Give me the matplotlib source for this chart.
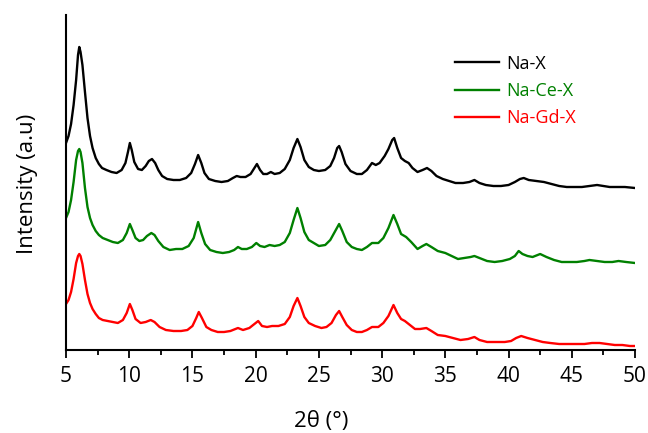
import matplotlib
matplotlib.use("Agg")
import matplotlib.pyplot as plt
from matplotlib.ticker import MultipleLocator

# ---- data (2theta in degrees, intensity in a.u.) ----
nax_2theta = [5.0, 5.2, 5.4, 5.6, 5.8, 5.95, 6.05, 6.15, 6.3, 6.5, 6.7, 6.9, 7.1, 7.35, 7.6, 7.85,
              8.2, 8.6, 9.0, 9.4, 9.7, 9.9, 10.05, 10.2, 10.4, 10.7, 11.0, 11.3, 11.55, 11.8, 12.05,
              12.3, 12.6, 13.0, 13.5, 14.0, 14.5, 14.9, 15.2, 15.45, 15.7, 15.95, 16.3, 16.8, 17.3,
              17.8, 18.2, 18.5, 18.8, 19.2, 19.6, 19.9, 20.1, 20.35, 20.6, 20.9, 21.2, 21.5, 21.9,
              22.3, 22.7, 23.0, 23.3, 23.55, 23.85, 24.2, 24.6, 25.0, 25.5, 25.9, 26.2, 26.45, 26.6,
              26.8, 27.1, 27.5, 28.0, 28.4, 28.8, 29.2, 29.5, 29.8, 30.2, 30.5, 30.8, 30.95, 31.2,
              31.5, 31.8, 32.1, 32.4, 32.8, 33.2, 33.55, 33.9, 34.3, 34.8, 35.3, 35.8, 36.4, 36.9,
              37.3, 37.7, 38.2, 38.8, 39.4, 40.0, 40.5, 40.9, 41.2, 41.6, 42.2, 42.8, 43.4, 44.0,
              44.6, 45.2, 45.8, 46.4, 47.0, 47.5, 48.0, 48.6, 49.2, 50.0]
nax_int = [207, 214, 226, 245, 270, 295, 303, 298, 285, 258, 232, 214, 202, 192, 186, 182,
           180, 178, 177, 180, 187, 198, 207, 200, 188, 181, 180, 184, 189, 191, 187,
           180, 174, 171, 170, 170, 172, 177, 186, 195, 187, 177, 171, 169, 168,
           169, 172, 174, 173, 173, 176, 182, 186, 180, 176, 176, 178, 176, 177,
           181, 190, 202, 211, 203, 190, 183, 180, 179, 180, 184, 192, 202, 204,
           198, 186, 179, 176, 176, 180, 187, 185, 187, 194, 201, 210, 212, 202,
           192, 189, 187, 182, 178, 180, 182, 179, 174, 171, 169, 167, 167, 168,
           170, 167, 165, 164, 164, 165, 168, 171, 172, 170, 169, 168, 166, 164,
           163, 163, 163, 164, 165, 164, 163, 163, 163, 162]

nacex_2theta = [5.0, 5.2, 5.4, 5.6, 5.8, 5.95, 6.05, 6.15, 6.3, 6.5, 6.7, 6.9, 7.1, 7.35, 7.6, 7.9,
                8.3, 8.7, 9.1, 9.5, 9.8, 10.05, 10.25, 10.5, 10.8, 11.1, 11.4, 11.75, 12.0, 12.3,
                12.7, 13.2, 13.7, 14.2, 14.7, 15.1, 15.45, 15.7, 16.0, 16.4, 16.9, 17.4, 17.9, 18.3,
                18.6, 18.9, 19.3, 19.7, 20.05, 20.35, 20.7, 21.1, 21.5, 21.9, 22.3, 22.7, 23.0, 23.3,
                23.55, 23.85, 24.2, 24.6, 25.0, 25.5, 25.9, 26.25, 26.6, 26.85, 27.2, 27.6, 28.0,
                28.4, 28.8, 29.2, 29.7, 30.1, 30.5, 30.9, 31.2, 31.5, 31.9, 32.3, 32.8, 33.2, 33.5,
                33.9, 34.4, 35.0, 35.5, 36.0, 36.5, 37.0, 37.3, 37.7, 38.3, 38.9, 39.5, 40.1, 40.5,
                40.8, 41.1, 41.5, 41.9, 42.5, 43.0, 43.6, 44.2, 44.8, 45.4, 46.0, 46.4, 47.0, 47.6,
                48.2, 48.7, 49.3, 50.0]
nacex_int = [132, 138, 150, 168, 190, 199, 201, 198, 187, 162, 143, 132, 125, 119, 115, 112,
             110, 108, 107, 110, 117, 126, 120, 112, 109, 110, 114, 117, 115, 109,
             103, 100, 101, 101, 104, 112, 128, 117, 106, 100, 98, 97, 98, 100,
             103, 101, 101, 103, 107, 104, 103, 105, 104, 105, 108, 117, 130, 142,
             132, 118, 110, 107, 104, 105, 110, 118, 126, 119, 108, 103, 101,
             100, 103, 107, 107, 112, 122, 135, 126, 116, 113, 108, 101, 104, 106,
             103, 99, 97, 94, 91, 92, 93, 94, 92, 89, 88, 89, 91, 94,
             99, 96, 94, 93, 96, 93, 90, 88, 88, 88, 89, 90, 89, 88,
             88, 89, 88, 87]

nagdx_2theta = [5.0, 5.2, 5.4, 5.6, 5.8, 5.95, 6.05, 6.15, 6.3, 6.5, 6.7, 6.9, 7.1, 7.35, 7.6, 7.9,
                8.3, 8.7, 9.1, 9.5, 9.8, 10.05, 10.25, 10.5, 10.9, 11.3, 11.7, 12.0, 12.4, 12.9,
                13.5, 14.1, 14.6, 15.0, 15.3, 15.5, 15.75, 16.1, 16.5, 17.0, 17.5, 18.0, 18.6, 19.0,
                19.5, 19.9, 20.2, 20.5, 20.9, 21.3, 21.8, 22.3, 22.7, 23.0, 23.3, 23.55, 23.85, 24.2,
                24.7, 25.2, 25.6, 26.0, 26.35, 26.6, 26.85, 27.2, 27.6, 28.0, 28.4, 28.8, 29.2, 29.7,
                30.1, 30.5, 30.9, 31.2, 31.5, 31.8, 32.2, 32.6, 33.0, 33.5, 33.9, 34.4, 35.0, 35.6,
                36.2, 36.8, 37.3, 37.7, 38.3, 39.0, 39.7, 40.2, 40.6, 41.0, 41.5, 42.1, 42.7, 43.3,
                44.0, 44.6, 45.3, 46.0, 46.6, 47.2, 47.8, 48.4, 49.0, 49.6, 50.0]
nagdx_int = [46, 50, 58, 71, 87, 94, 96, 94, 86, 70, 56, 47, 41, 36, 32, 30,
             29, 28, 27, 30, 37, 46, 40, 31, 27, 28, 30, 28, 23, 20,
             19, 19, 20, 24, 32, 38, 32, 23, 20, 18, 18, 19, 22, 20,
             22, 26, 29, 24, 23, 24, 24, 26, 33, 44, 52, 44, 33, 27,
             24, 22, 23, 27, 35, 39, 33, 25, 20, 18, 18, 20, 23, 23,
             27, 34, 45, 37, 31, 29, 25, 21, 21, 22, 19, 15, 14, 12,
             10, 11, 13, 10, 8, 8, 8, 9, 12, 14, 12, 10, 8, 7,
             6, 6, 6, 6, 7, 7, 6, 5, 5, 4, 4]

series_labels = ["Na-X", "Na-Ce-X", "Na-Gd-X"]
series_colors = ["#000000", "#008000", "#FF0000"]
x_ticks = [5, 10, 15, 20, 25, 30, 35, 40, 45, 50]

plt.rcParams['font.family'] = ['Open Sans', 'DejaVu Sans']

fig = plt.figure(figsize=(6.48, 4.33), dpi=100)
ax = fig.add_axes([66 / 648, 1 - 350 / 433, (635 - 66) / 648, (350 - 15) / 433])

for xs, ys, lab, col in zip([nax_2theta, nacex_2theta, nagdx_2theta],
                            [nax_int, nacex_int, nagdx_int],
                            series_labels, series_colors):
    ax.plot(xs, ys, color=col, lw=1.7, label=lab, solid_joinstyle='round')

ax.set_xlim(5, 50)
ax.set_ylim(0, 335)
ax.set_xticks(x_ticks)
ax.xaxis.set_minor_locator(MultipleLocator(2.5))
ax.set_yticks([])
for s in ['top', 'right']:
    ax.spines[s].set_visible(False)
for s in ['left', 'bottom']:
    ax.spines[s].set_linewidth(1.5)
ax.tick_params(axis='x', which='major', direction='out', length=5.5, width=1.3, labelsize=15, pad=6)
ax.tick_params(axis='x', which='minor', direction='out', length=3.5, width=1.3)

fig.text(321 / 648, 1 - 421 / 433, "2θ (°)", fontsize=16, ha='center', va='center')
fig.text(27 / 648, 1 - 184 / 433, "Intensity (a.u)", fontsize=16, ha='center', va='center',
         rotation=90)

leg = ax.legend(loc='upper left', bbox_to_anchor=(373 / 569, 0.93), frameon=False,
                fontsize=13, handlelength=2.4, handletextpad=0.45, labelspacing=0.52,
                labelcolor='linecolor')

fig.savefig("out.png", dpi=100)
